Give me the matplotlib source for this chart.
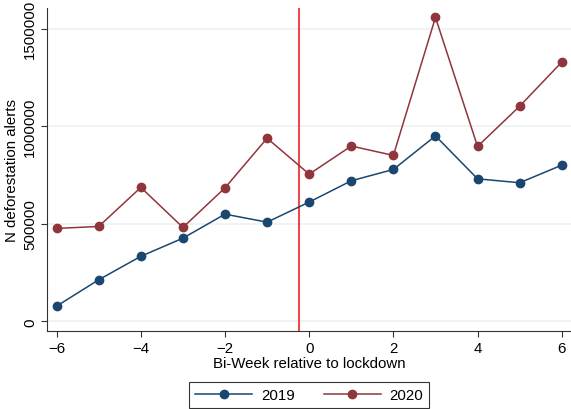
import numpy as np
import matplotlib
matplotlib.use("Agg")
import matplotlib.pyplot as plt

plt.rcParams['font.family'] = ['Liberation Sans', 'DejaVu Sans']

# bi-weeks relative to lockdown
weeks = [-6, -5, -4, -3, -2, -1, 0, 1, 2, 3, 4, 5, 6]
alerts_2019 = [78000, 213000, 333000, 426000, 549000, 508000, 611000,
               720000, 778000, 950000, 730000, 710000, 800000]
alerts_2020 = [476000, 486000, 686000, 481000, 684000, 938000, 754000,
               898000, 850000, 1557000, 896000, 1102000, 1328000]
lockdown = -0.25

navy = "#1a476f"
maroon = "#90353b"

fig = plt.figure(figsize=(5.71, 4.10), dpi=100)
ax = fig.add_axes([0.083, 0.191, 0.917, 0.786])

for v in [0, 500000, 1000000, 1500000]:
    ax.axhline(v, color="#eaf2f3", lw=1.2, zorder=0)

ax.plot(weeks, alerts_2019, color=navy, lw=1.1, marker="o", ms=6, label="2019")
ax.plot(weeks, alerts_2020, color=maroon, lw=1.1, marker="o", ms=6, label="2020")
ax.axvline(lockdown, color="#f0484c", lw=1.5, zorder=1)

ax.set_xlim(-6.22, 6.22)
ax.set_ylim(-48000, 1603000)
ax.set_xticks([-6, -4, -2, 0, 2, 4, 6])
ax.set_yticks([0, 500000, 1000000, 1500000])
ax.set_yticklabels(["0", "500000", "1000000", "1500000"], rotation=90, va="center")
ax.tick_params(labelsize=10.8, length=4, width=0.8, color="#333333")

for s in ["top", "right"]:
    ax.spines[s].set_visible(False)
for s in ["left", "bottom"]:
    ax.spines[s].set_color("#333333")
    ax.spines[s].set_linewidth(0.8)

ax.set_xlabel("Bi-Week relative to lockdown", fontsize=10.8, labelpad=1)
ax.set_ylabel("N deforestation alerts", fontsize=10.8, labelpad=3)

leg = fig.legend(loc="upper center", bbox_to_anchor=(0.5417, 0.066), ncol=2,
                 fontsize=10.8, frameon=True, fancybox=False, handlelength=3.8,
                 handletextpad=0.6, columnspacing=1.9, borderpad=0.4,
                 borderaxespad=0)
leg.get_frame().set_edgecolor("black")
leg.get_frame().set_linewidth(0.8)

fig.savefig("out.png", dpi=100)
